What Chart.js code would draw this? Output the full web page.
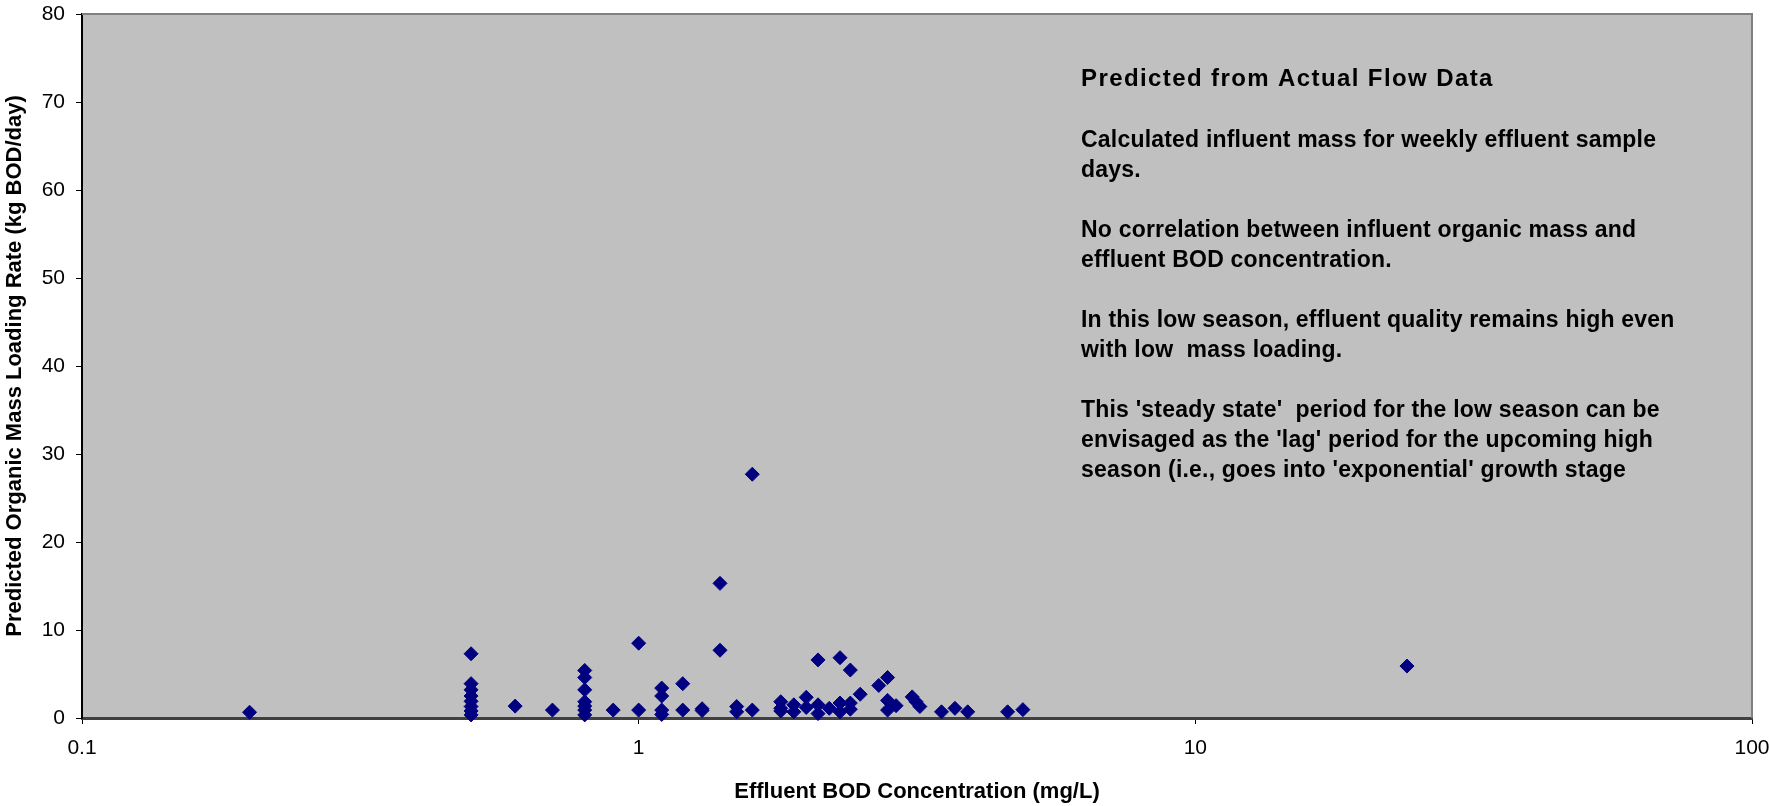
<!DOCTYPE html>
<html>
<head>
<meta charset="utf-8">
<script src="https://cdn.jsdelivr.net/npm/chart.js@4.4.0/dist/chart.umd.min.js"></script>
<style>
  html, body { margin: 0; padding: 0; background: #fff; }
</style>
</head>
<body>
<canvas id="bodChart" width="1769" height="806"></canvas>
<script>
// effluent BOD (mg/L) vs predicted organic mass loading (kg BOD/day), one entry per sample day
const effluentBOD = [
  0.2,
  0.5, 0.5, 0.5, 0.5, 0.5, 0.5, 0.5, 0.5,
  0.6, 0.7,
  0.8, 0.8, 0.8, 0.8, 0.8, 0.8, 0.8,
  0.9,
  1.0, 1.0,
  1.1, 1.1, 1.1, 1.1,
  1.2, 1.2,
  1.3, 1.3,
  1.4, 1.4,
  1.5, 1.5,
  1.6, 1.6,
  1.8, 1.8, 1.8,
  1.9, 1.9,
  2.0, 2.0,
  2.1, 2.1, 2.1,
  2.2,
  2.3, 2.3, 2.3,
  2.4, 2.4, 2.4,
  2.5, 2.7,
  2.8, 2.8, 2.8,
  2.9, 3.1, 3.15, 3.2,
  3.5, 3.7, 3.9, 4.6, 4.9,
  24
];
const massLoading = [
  0.65,
  7.3, 3.9, 3.2, 2.5, 1.9, 1.3, 0.8, 0.35,
  1.35, 0.9,
  5.4, 4.6, 3.2, 1.85, 1.35, 0.9, 0.35,
  0.9,
  8.5, 0.9,
  3.4, 2.5, 0.9, 0.4,
  3.9, 0.9,
  1.05, 0.85,
  15.3, 7.7,
  1.3, 0.7,
  27.7, 0.9,
  1.85, 1.1, 0.8,
  1.5, 0.7,
  2.35, 1.2,
  6.6, 1.5, 0.5,
  1.1,
  6.85, 1.7, 0.7,
  5.45, 1.7, 1.0,
  2.7, 3.7,
  4.6, 2.0, 0.9,
  1.4, 2.4, 1.85, 1.3,
  0.7, 1.1, 0.7, 0.7, 0.95,
  5.9
];
const xTickValues = [0.1, 1, 10, 100];
const yMin = 0, yMax = 80, yStep = 10;

const noteTitle = 'Predicted from Actual Flow Data';
const noteLines = [
  'Calculated influent mass for weekly effluent sample',
  'days.',
  '',
  'No correlation between influent organic mass and',
  'effluent BOD concentration.',
  '',
  'In this low season, effluent quality remains high even',
  'with low  mass loading.',
  '',
  "This 'steady state'  period for the low season can be",
  "envisaged as the 'lag' period for the upcoming high",
  "season (i.e., goes into 'exponential' growth stage"
];

const FONT = '"Liberation Sans", Arial, sans-serif';

const points = effluentBOD.map((x, i) => ({ x: x, y: massLoading[i] }));

// grey plot area, frame on top/right and the text box
const plotFrame = {
  id: 'plotFrame',
  beforeDraw(chart) {
    const { ctx, chartArea: a } = chart;
    ctx.save();
    ctx.fillStyle = '#c0c0c0';
    ctx.fillRect(a.left, a.top, a.right - a.left, a.bottom - a.top);
    ctx.restore();
  },
  afterDraw(chart) {
    const { ctx, chartArea: a } = chart;
    ctx.save();
    ctx.strokeStyle = '#808080';
    ctx.lineWidth = 2;
    ctx.beginPath();
    ctx.moveTo(a.left, a.top);
    ctx.lineTo(a.right, a.top);
    ctx.lineTo(a.right, a.bottom);
    ctx.stroke();

    const x0 = a.left + (a.right - a.left) * 0.5982;
    ctx.fillStyle = '#000';
    ctx.textBaseline = 'alphabetic';
    ctx.textAlign = 'left';
    ctx.font = 'bold 24px ' + FONT;
    ctx.letterSpacing = '1.4px';
    ctx.fillText(noteTitle, x0, a.top + 72);
    ctx.font = 'bold 23px ' + FONT;
    ctx.letterSpacing = '0.2px';
    let y = a.top + 133;
    noteLines.forEach(line => {
      if (line) ctx.fillText(line, x0, y);
      y += 30;
    });
    ctx.restore();
  }
};

new Chart(document.getElementById('bodChart'), {
  type: 'scatter',
  data: {
    datasets: [{
      label: 'Predicted',
      data: points,
      pointStyle: 'rectRot',
      pointRadius: 7,
      pointHoverRadius: 7,
      backgroundColor: '#000080',
      borderColor: '#000080',
      borderWidth: 1,
      clip: false
    }]
  },
  options: {
    responsive: false,
    animation: false,
    layout: { padding: { top: 14, right: 17, bottom: 0, left: 0 } },
    plugins: {
      legend: { display: false },
      tooltip: { enabled: false }
    },
    scales: {
      x: {
        type: 'logarithmic',
        min: 0.1,
        max: 100,
        afterBuildTicks: scale => {
          scale.ticks = xTickValues.map(v => ({ value: v }));
        },
        afterFit: scale => {
          scale.height = 88;
          scale.paddingLeft = 0;
          scale.paddingRight = 0;
        },
        ticks: {
          callback: v => String(v),
          color: '#000',
          font: { family: FONT, size: 21 },
          padding: 12,
          maxRotation: 0,
          autoSkip: false
        },
        grid: {
          drawOnChartArea: false,
          drawTicks: true,
          tickLength: 6,
          tickColor: '#000'
        },
        border: { color: '#404040', width: 3 },
        title: {
          display: true,
          text: 'Effluent BOD Concentration (mg/L)',
          color: '#000',
          font: { family: FONT, size: 22, weight: 'bold' },
          padding: { top: 0, bottom: 1 }
        }
      },
      y: {
        min: yMin,
        max: yMax,
        afterFit: scale => {
          scale.width = 82;
          scale.paddingTop = 0;
          scale.paddingBottom = 0;
        },
        ticks: {
          stepSize: yStep,
          color: '#000',
          font: { family: FONT, size: 21 },
          padding: 11
        },
        grid: {
          drawOnChartArea: false,
          drawTicks: true,
          tickLength: 6,
          tickColor: '#000'
        },
        border: { color: '#000', width: 2 },
        title: {
          display: true,
          text: 'Predicted Organic Mass Loading Rate (kg BOD/day)',
          color: '#000',
          font: { family: FONT, size: 22, weight: 'bold' },
          padding: { top: 2, bottom: 0 }
        }
      }
    }
  },
  plugins: [plotFrame]
});
</script>
</body>
</html>
